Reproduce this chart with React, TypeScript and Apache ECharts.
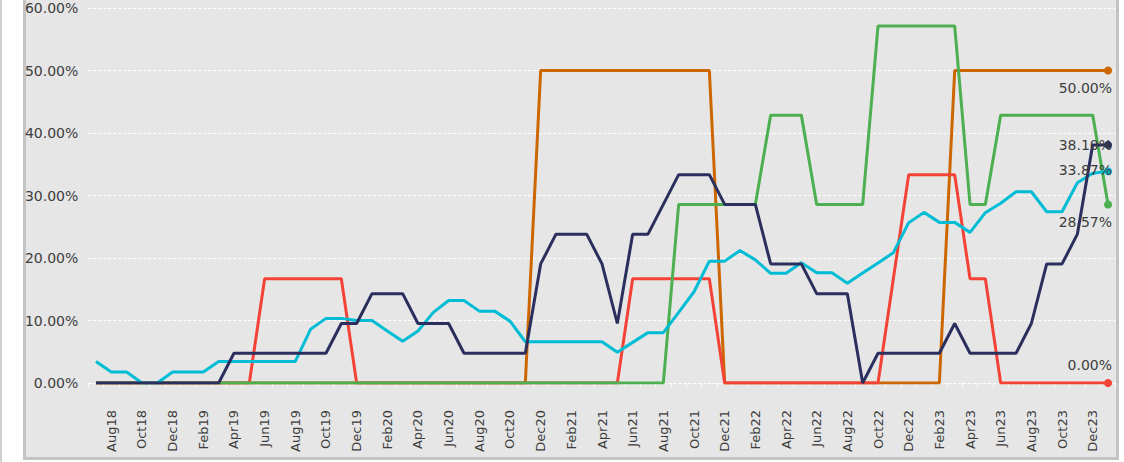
import React, { useEffect, useRef } from "react";
import * as echarts from "echarts";

const months = [
  "Jul18","Aug18","Sep18","Oct18","Nov18","Dec18",
  "Jan19","Feb19","Mar19","Apr19","May19","Jun19","Jul19","Aug19","Sep19","Oct19","Nov19","Dec19",
  "Jan20","Feb20","Mar20","Apr20","May20","Jun20","Jul20","Aug20","Sep20","Oct20","Nov20","Dec20",
  "Jan21","Feb21","Mar21","Apr21","May21","Jun21","Jul21","Aug21","Sep21","Oct21","Nov21","Dec21",
  "Jan22","Feb22","Mar22","Apr22","May22","Jun22","Jul22","Aug22","Sep22","Oct22","Nov22","Dec22",
  "Jan23","Feb23","Mar23","Apr23","May23","Jun23","Jul23","Aug23","Sep23","Oct23","Nov23","Dec23",
  "Jan24",
];

const orangeValues = [
  0,0,0,0,0,0, 0,0,0,0,0,0,0,0,0,0,0,0, 0,0,0,0,0,0,0,0,0,0,0,50,
  50,50,50,50,50,50,50,50,50,50,50,0, 0,0,0,0,0,0,0,0,0,0,0,0,
  0,0,50,50,50,50,50,50,50,50,50,50, 50,
];

const redValues = [
  0,0,0,0,0,0, 0,0,0,0,0,16.67,16.67,16.67,16.67,16.67,16.67,0,
  0,0,0,0,0,0,0,0,0,0,0,0, 0,0,0,0,0,16.67,16.67,16.67,16.67,16.67,16.67,0,
  0,0,0,0,0,0,0,0,0,0,16.67,33.33, 33.33,33.33,33.33,16.67,16.67,0,0,0,0,0,0,0, 0,
];

const greenValues = [
  0,0,0,0,0,0, 0,0,0,0,0,0,0,0,0,0,0,0, 0,0,0,0,0,0,0,0,0,0,0,0,
  0,0,0,0,0,0,0,0,28.57,28.57,28.57,28.57, 28.57,28.57,42.86,42.86,42.86,28.57,28.57,28.57,28.57,57.14,57.14,57.14,
  57.14,57.14,57.14,28.57,28.57,42.86,42.86,42.86,42.86,42.86,42.86,42.86, 28.57,
];

const navyValues = [
  0,0,0,0,0,0, 0,0,0,4.76,4.76,4.76,4.76,4.76,4.76,4.76,9.52,9.52,
  14.29,14.29,14.29,9.52,9.52,9.52,4.76,4.76,4.76,4.76,4.76,19.05,
  23.81,23.81,23.81,19.05,9.52,23.81,23.81,28.57,33.33,33.33,33.33,28.57,
  28.57,28.57,19.05,19.05,19.05,14.29,14.29,14.29,0,4.76,4.76,4.76,
  4.76,4.76,9.52,4.76,4.76,4.76,4.76,9.52,19.05,19.05,23.81,38.1, 38.1,
];

const cyanValues = [
  3.45,1.75,1.75,0,0,1.75, 1.75,1.75,3.45,3.45,3.45,3.45,3.45,3.45,8.62,10.34,10.34,10.0,
  10.0,8.33,6.67,8.33,11.3,13.2,13.2,11.5,11.5,9.9,6.6,6.6,
  6.6,6.6,6.6,6.6,4.92,6.5,8.06,8.06,11.3,14.6,19.5,19.5,
  21.2,19.7,17.55,17.55,19.25,17.65,17.65,15.95,17.6,19.2,20.85,25.65,
  27.3,25.7,25.7,24.1,27.25,28.75,30.6,30.6,27.4,27.4,32.05,33.55, 33.87,
];

const seriesDefs = [
  { name: "Orange", color: "#CC6600", values: orangeValues, labelOffset: [4, 17] },
  { name: "Red", color: "#F44336", values: redValues, labelOffset: [4, -18] },
  { name: "Green", color: "#4CAF50", values: greenValues, labelOffset: [4, 18] },
  { name: "Cyan", color: "#00BCD4", values: cyanValues, labelOffset: [4, -1] },
  { name: "Navy", color: "#2B2F5E", values: navyValues, labelOffset: [4, 0] },
];

const FONT = "DejaVu Sans";
const TEXT_COLOR = "#3d3d3d";

export default function App() {
  const ref = useRef<HTMLDivElement>(null);

  useEffect(() => {
    if (!ref.current) return;
    const chart = echarts.init(ref.current, null, { renderer: "svg" });
    const last = months.length - 1;

    const series = seriesDefs.map((s) => ({
      name: s.name,
      type: "line",
      animation: false,
      symbol: "circle",
      showSymbol: true,
      showAllSymbol: true,
      symbolSize: (_v: any, p: any) => (p.dataIndex === last ? 8 : 0),
      itemStyle: { color: s.color },
      lineStyle: { color: s.color, width: 3 },
      emphasis: { disabled: true },
      data: s.values.map((v, i) =>
        i === last
          ? {
              value: v,
              label: {
                show: true,
                position: "inside",
                align: "right",
                verticalAlign: "middle",
                offset: s.labelOffset,
                formatter: (p: any) => Number(p.value).toFixed(2) + "%",
                fontFamily: FONT,
                fontSize: 14,
                color: TEXT_COLOR,
              },
            }
          : v
      ),
    }));

    chart.setOption({
      animation: false,
      grid: { left: 88.3, right: 8.3, top: 8, bottom: 79, containLabel: false },
      xAxis: {
        type: "category",
        data: months,
        boundaryGap: true,
        offset: 19,
        axisLine: { show: false },
        axisTick: { show: true, interval: 0, length: 4, lineStyle: { color: "#ffffff", width: 1 } },
        axisLabel: {
          interval: (i: number) => i % 2 === 1,
          rotate: 90,
          margin: 8,
          fontFamily: FONT,
          fontSize: 13,
          color: TEXT_COLOR,
        },
        splitLine: { show: false },
      },
      yAxis: {
        type: "value",
        min: 0,
        max: 60,
        interval: 10,
        axisLine: { show: false },
        axisTick: { show: false },
        axisLabel: {
          formatter: (v: number) => v.toFixed(2) + "%",
          margin: 10,
          fontFamily: FONT,
          fontSize: 14,
          color: TEXT_COLOR,
        },
        splitLine: { show: true, lineStyle: { color: "#ffffff", type: [3, 2], width: 1 } },
      },
      series,
    });

    return () => chart.dispose();
  }, []);

  return (
    <div style={{ position: "fixed", left: 0, top: 0, width: 1124, height: 462, background: "#ffffff", overflow: "hidden" }}>
      <div style={{ position: "absolute", left: 0, top: 0, width: 2, height: 462, background: "#d0d0d0" }} />
      <div
        style={{
          position: "absolute",
          left: 23,
          top: 0,
          width: 1090,
          height: 457,
          background: "#e6e6e6",
          borderLeft: "3px solid #c4c4c4",
          borderRight: "3px solid #c4c4c4",
          borderBottom: "3px solid #c4c4c4",
        }}
      />
      <div ref={ref} style={{ position: "absolute", left: 0, top: 0, width: 1124, height: 462 }} />
    </div>
  );
}
